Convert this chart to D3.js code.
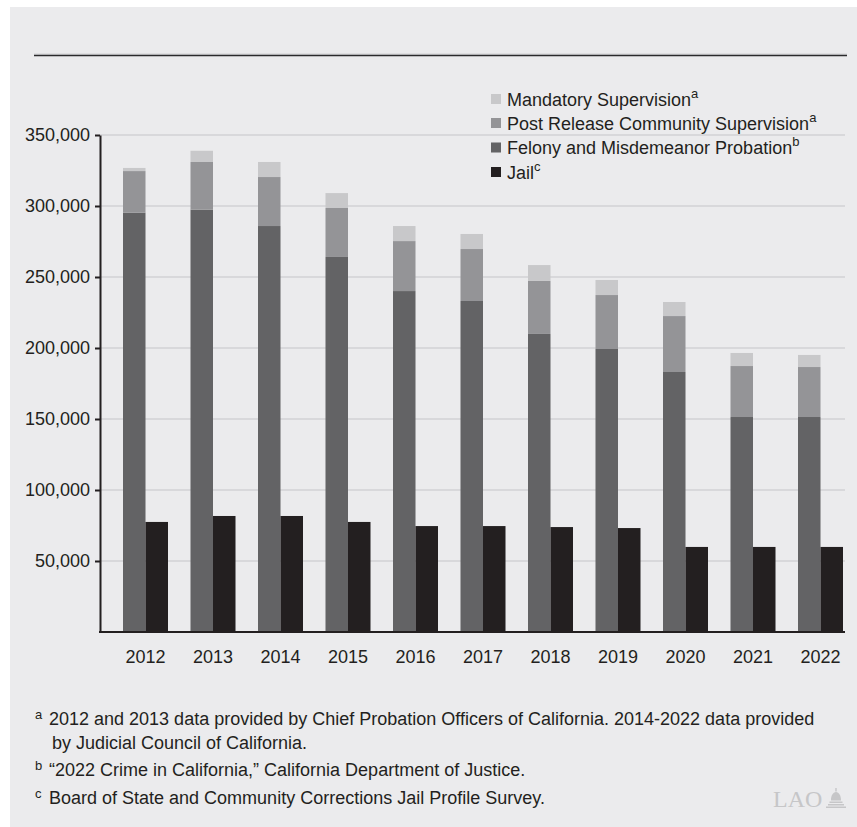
<!DOCTYPE html>
<html><head><meta charset="utf-8">
<script src="https://cdn.jsdelivr.net/npm/d3@7"></script>
<style>body{margin:0;background:#fff}svg{display:block}</style></head>
<body>
<svg id="c" width="857" height="827"></svg>
<script>
const years = ["2012","2013","2014","2015","2016","2017","2018","2019","2020","2021","2022"];
const felony    = [295300, 297400, 285900, 264100, 240100, 233100, 209900, 199300, 183100, 151400, 151400];
const prcs      = [29300, 33600, 34500, 34500, 35200, 36600, 37300, 38000, 39400, 35900, 35200];
const mandatory = [2200, 7900, 10600, 10500, 10600, 10600, 11200, 10600, 9900, 9200, 8500];
const jail      = [77500, 81700, 81700, 77500, 74600, 74600, 73900, 73200, 59900, 59900, 59900];
const yTicks = [50000, 100000, 150000, 200000, 250000, 300000, 350000];
const seriesNames = ["Mandatory Supervision", "Post Release Community Supervision", "Felony and Misdemeanor Probation", "Jail"];
const seriesNotes = ["a", "a", "b", "c"];
const seriesColors = ["#C8C8CA", "#949497", "#636365", "#231F20"];
const footNotes = [
  {mark: "a", lines: ["2012 and 2013 data provided by Chief Probation Officers of California. 2014-2022 data provided", "by Judicial Council of California."]},
  {mark: "b", lines: ["\u201C2022 Crime in California,\u201D California Department of Justice."]},
  {mark: "c", lines: ["Board of State and Community Corrections Jail Profile Survey."]}
];

const FONT = "'Liberation Sans', Arial, Helvetica, sans-serif";
const TXT = "#231F20";
const svg = d3.select("#c");

// panel
svg.append("rect").attr("x", 10).attr("y", 7).attr("width", 847).attr("height", 820).attr("fill", "#EBEBED");
// top rule
svg.append("line").attr("x1", 34).attr("x2", 847).attr("y1", 54).attr("y2", 54)
  .attr("stroke", "#D0D0D2").attr("stroke-width", 1);
svg.append("line").attr("x1", 34).attr("x2", 847).attr("y1", 55.5).attr("y2", 55.5)
  .attr("stroke", "#2a2a2c").attr("stroke-width", 1.5);

const y = d3.scaleLinear().domain([0, 350000]).range([632, 135]);
const x = d3.scaleBand().domain(years).range([123, 843]).paddingInner(1/3).paddingOuter(0);
const x1 = d3.scaleBand().domain(["stack", "jail"]).range([0, x.bandwidth()]);

// gridlines
svg.append("g").selectAll("line").data(yTicks).join("line")
  .attr("x1", 100).attr("x2", 845)
  .attr("y1", d => y(d)).attr("y2", d => y(d))
  .attr("stroke", "#D2D2D4").attr("stroke-width", 1.5);

// legend
const lg = svg.append("g").attr("font-family", FONT).attr("fill", TXT);
const legendY = [99, 123, 147.5, 172];
seriesNames.forEach((name, i) => {
  lg.append("rect").attr("x", 491).attr("y", legendY[i] - 5).attr("width", 10).attr("height", 10)
    .attr("fill", seriesColors[i]);
  const t = lg.append("text").attr("x", 507).attr("y", legendY[i] + 6.5).attr("font-size", 18);
  t.append("tspan").text(name);
  t.append("tspan").attr("font-size", 13).attr("dy", -8).text(seriesNotes[i]);
});

// stacked bars
const rows = years.map((yr, i) => ({year: yr, felony: felony[i], prcs: prcs[i], mandatory: mandatory[i]}));
const stack = d3.stack().keys(["felony", "prcs", "mandatory"])(rows);
const stackColors = {felony: seriesColors[2], prcs: seriesColors[1], mandatory: seriesColors[0]};
svg.append("g").selectAll("g").data(stack).join("g")
  .attr("fill", d => stackColors[d.key])
  .selectAll("rect").data(d => d).join("rect")
  .attr("x", d => x(d.data.year) + x1("stack"))
  .attr("width", x1.bandwidth())
  .attr("y", d => y(d[1]))
  .attr("height", d => y(d[0]) - y(d[1]));

// jail bars
svg.append("g").attr("fill", seriesColors[3]).selectAll("rect").data(years).join("rect")
  .attr("x", (d) => x(d) + x1("jail"))
  .attr("width", x1.bandwidth())
  .attr("y", (d, i) => y(jail[i]))
  .attr("height", (d, i) => y(0) - y(jail[i]));

// y axis
const ya = svg.append("g").attr("transform", "translate(100,0)")
  .call(d3.axisLeft(y).tickValues(yTicks).tickFormat(d3.format(",")).tickSize(5).tickSizeOuter(0).tickPadding(5));
ya.select(".domain").attr("stroke", TXT).attr("stroke-width", 2);
ya.selectAll(".tick line").attr("stroke", TXT).attr("stroke-width", 2);
ya.selectAll("text").attr("font-family", FONT).attr("font-size", 18).attr("fill", TXT);

// x axis
const xa = svg.append("g").attr("transform", "translate(0,632)")
  .call(d3.axisBottom(x).tickSize(0).tickSizeOuter(0).tickPadding(18));
xa.select(".domain").remove();
xa.selectAll("text").attr("font-family", FONT).attr("font-size", 18).attr("fill", TXT);
svg.append("line").attr("x1", 99).attr("x2", 845).attr("y1", 632).attr("y2", 632)
  .attr("stroke", TXT).attr("stroke-width", 2);

// footnotes
const fg = svg.append("g").attr("font-family", FONT).attr("fill", TXT);
const noteY = [[725, 749], [776], [804]];
footNotes.forEach((n, i) => {
  fg.append("text").attr("x", 35).attr("y", noteY[i][0] - 6).attr("font-size", 13).text(n.mark);
  n.lines.forEach((ln, j) => {
    fg.append("text").attr("x", j === 0 ? 49 : 52).attr("y", noteY[i][j]).attr("font-size", 18).text(ln);
  });
});

// LAO logo
const logo = svg.append("g").attr("fill", "#C6C6C8");
logo.append("text").attr("x", 773).attr("y", 807).attr("font-family", "'Liberation Serif', 'DejaVu Serif', serif")
  .attr("font-size", 24).text("LAO");
// small capitol dome
logo.append("path").attr("d",
  "M826,808 L846,808 L846,806.5 L826,806.5 Z M828,805.5 L844,805.5 L844,804 L828,804 Z" +
  " M829.5,803 L842.5,803 L842.5,801.5 L829.5,801.5 Z M831,800.5 C831,795 833,792.5 836,792 C839,792.5 841,795 841,800.5 Z" +
  " M835.3,791.5 L836.7,791.5 L836.7,788 L835.3,788 Z");
</script>
</body></html>
